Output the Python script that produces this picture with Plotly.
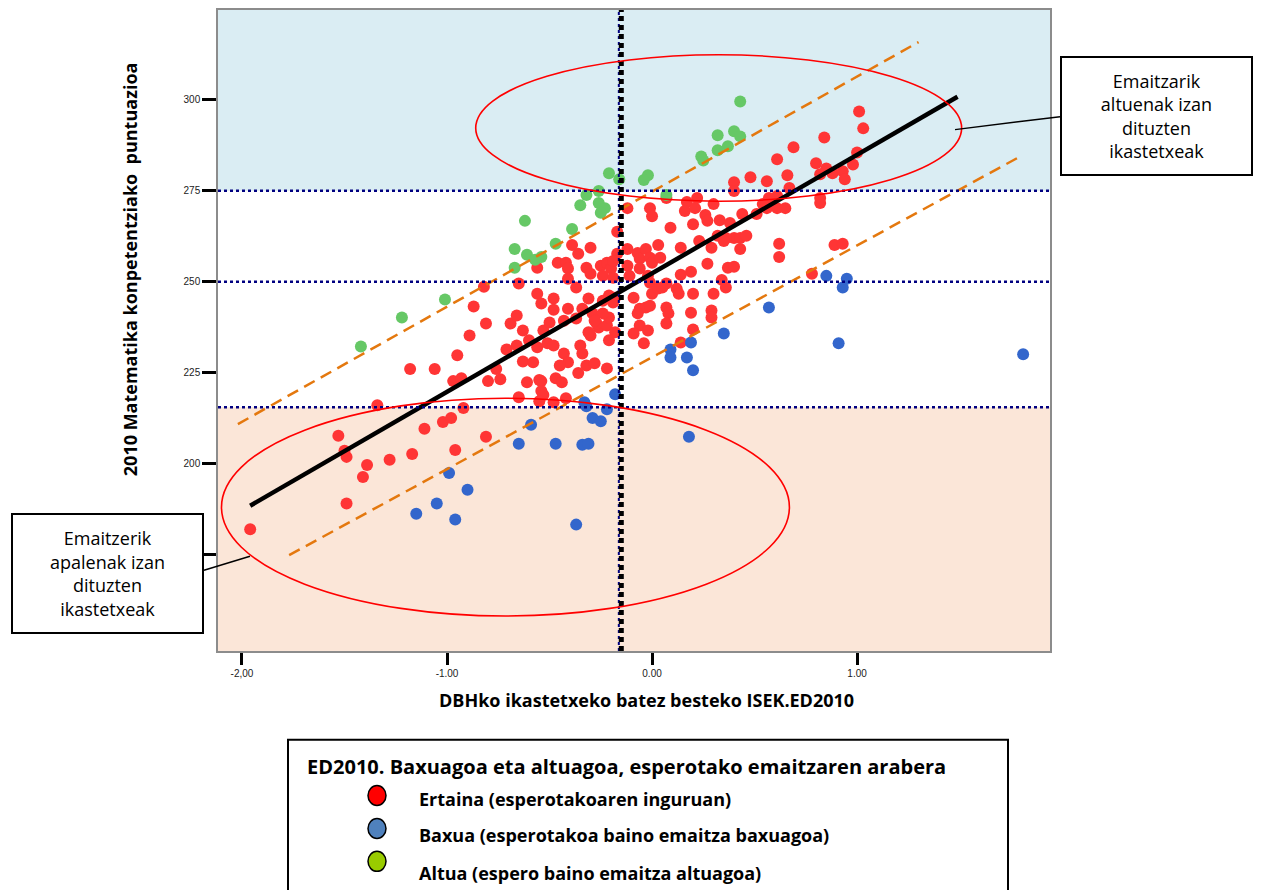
import plotly.graph_objects as go

# ---------------- data ----------------
red_x = [-1.96, -1.49, -1.41, -1.39, -1.49, -1.50, -1.53, -1.28, -1.17, -0.96, -1.11, -1.02, -0.98, -0.92, -0.81, -1.34,
         -1.18, -1.06, -0.95, -0.97, -0.93, -0.80, -0.74, -0.76, -0.89, -0.81, -0.69, -0.71, -0.66, -0.63, -0.61, -0.54,
         -0.54, -0.53, -0.47, -0.44, -0.36, -0.32, -0.28, -0.22, -0.60, -0.56, -0.51, -0.48, -0.43, -0.41, -0.45, -0.35,
         -0.30, -0.26, -0.22, -0.18, -0.21, -0.63, -0.53, -0.50, -0.58, -0.87, -0.82, -0.65, -0.66, -0.56, -0.54, -0.48,
         -0.48, -0.43, -0.55, -0.37, -0.34, -0.31, -0.29, -0.27, -0.24, -0.21, -0.18, -0.31, -0.34, -0.41, -0.24, -0.28,
         -0.65, -0.55, -0.48, -0.42,
         -0.12, -0.01, 0.00, -0.17, -0.39, -0.36, -0.30, -0.17, -0.12, -0.07, -0.06, -0.03, -0.01, 0.00, -0.46, -0.42,
         -0.41, -0.32, -0.30, -0.25, -0.22, -0.20, -0.24, -0.19, -0.12, -0.11, -0.06, -0.02, -0.01, -0.56, -0.41, -0.37,
         -0.19, -0.09, -0.06, -0.03, -0.01, -0.07, -0.06, -0.02, -0.09, -0.04, 0.00, 0.03, -0.21, -0.19,
         1.01, 1.03, 0.84, 0.69, 0.61, 0.80, 0.85, 0.82, 0.88, 0.93, 0.94, 0.98, 1.00, 0.66, 0.56, 0.48, 0.40, 0.40,
         0.67, 0.61, 0.57, 0.54, 0.56, 0.61, 0.65, 0.82, 0.82, 0.22, 0.17, 0.16, 0.21, 0.30, 0.07, 0.26, 0.27, 0.33,
         0.20, 0.38, 0.44, 0.51, 0.09, 0.40, 0.43, 0.46, 0.36, 0.32, 0.29, 0.35, 0.23, 0.14, 0.43, 0.03, 0.04, 0.62,
         0.62, 0.89, 0.93, 0.27, 0.37, 0.40, 0.19, 0.14, 0.34, 0.36, 0.12, 0.13, 0.20, 0.30, 0.07, 0.05, 0.07, 0.08,
         0.07, 0.19, 0.29, 0.29, 0.20, 0.78, 0.14]
red_y = [182.0, 189.1, 196.4, 199.7, 201.9, 203.6, 207.7, 201.1, 202.7, 203.8, 209.6, 211.5, 212.6, 215.3, 207.4, 216.1,
         226.0, 226.0, 229.8, 222.7, 223.5, 222.7, 223.2, 226.0, 235.2, 238.5, 238.5, 231.4, 232.5, 228.1, 222.4, 222.7,
         220.0, 218.9, 223.5, 222.4, 224.9, 227.0, 227.6, 226.2, 233.9, 232.0, 233.1, 232.5, 230.3, 227.9, 227.0, 232.5,
         235.2, 237.4, 238.0, 236.1, 233.9, 236.6, 236.6, 238.8, 227.9, 243.2, 248.6, 249.5, 240.7, 246.7, 244.0, 245.4,
         242.3, 239.3, 223.0, 239.9, 242.6, 245.4, 241.3, 238.5, 244.8, 240.2, 245.6, 236.1, 230.3, 242.6, 241.3, 239.3,
         218.3, 217.2, 216.9, 218.0,
         270.2, 270.2, 268.0, 263.7, 260.1, 257.7, 259.3, 257.7, 259.0, 257.9, 256.3, 259.0, 256.6, 255.2, 255.2, 255.2,
         253.6, 253.8, 252.2, 254.4, 255.2, 253.6, 251.6, 251.1, 254.4, 251.6, 253.6, 251.6, 249.7, 253.8, 250.8, 248.4,
         255.7, 245.6, 242.6, 242.9, 243.4, 241.3, 238.0, 236.6, 235.8, 233.1, 246.7, 248.1, 246.2, 244.3,
         296.7, 292.1, 289.6, 286.9, 283.6, 282.5, 281.1, 279.5, 279.8, 280.3, 278.1, 282.2, 285.5, 279.2, 277.6, 278.7,
         277.3, 274.9, 275.7, 273.5, 273.0, 271.3, 270.2, 270.2, 270.2, 273.0, 271.6, 273.0, 271.9, 269.4, 270.2, 271.3,
         273.0, 268.3, 266.7, 266.9, 265.8, 266.1, 268.6, 268.6, 264.8, 262.0, 262.0, 262.6, 262.0, 262.6, 259.3, 261.2,
         261.2, 259.3, 259.0, 260.1, 256.6, 260.4, 256.8, 260.1, 260.4, 254.9, 253.8, 254.1, 252.7, 251.9, 250.5, 248.4,
         248.1, 246.7, 246.7, 246.7, 249.5, 248.4, 242.9, 241.3, 238.5, 241.5, 242.1, 240.2, 236.9, 252.2, 233.3]

blue_x = [0.85, 0.95, 0.93, 0.57, 0.35, 0.19, 0.09, 0.09, 0.17, 0.20, 0.91, 1.81, -0.18, -0.33, -0.32, -0.22, -0.29,
          -0.25, -0.59, -0.65, -0.47, -0.34, -0.31, 0.18, -0.99, -0.90, -1.05, -1.15, -0.96, -0.37]
blue_y = [251.6, 250.8, 248.4, 242.9, 235.8, 233.3, 231.4, 229.2, 229.2, 225.7, 233.1, 230.1, 219.1, 216.9, 215.8, 215.0,
          212.6, 211.7, 210.7, 205.5, 205.5, 205.2, 205.5, 207.4, 197.5, 192.9, 189.1, 186.3, 184.7, 183.3]

green_x = [0.43, 0.32, 0.40, 0.43, 0.37, 0.32, 0.24, 0.25, -0.02, -0.04, 0.07, -0.21, -0.16, -0.32, -0.26, -0.35, -0.26,
           -0.23, -0.25, -0.62, -0.39, -0.47, -0.67, -0.61, -0.57, -0.54, -0.67, -1.01, -1.22, -1.42]
green_y = [299.5, 290.2, 291.3, 289.9, 287.2, 286.1, 284.4, 283.3, 279.2, 277.9, 273.8, 279.8, 278.1, 273.8, 274.9, 271.0,
           271.6, 270.2, 268.9, 266.7, 264.5, 260.4, 259.0, 257.4, 256.0, 256.8, 253.8, 245.1, 240.2, 232.2]

# fit line and prediction band (endpoints)
fit_x = [-1.96, 1.49]
fit_y = [188.5, 300.8]
band_hi_x = [-2.02, 1.30]
band_hi_y = [210.9, 315.8]
band_lo_x = [-1.77, 1.78]
band_lo_y = [174.9, 283.9]

# reference lines
h_lines = [275, 250, 215.5]
v_line = -0.15
high_zone = [275, 324.6]
low_zone = [148.6, 215.5]

# highlighted groups (ellipses): [x0, x1, y0, y1]
ellipse_high = [-0.86, 1.51, 272.1, 312.3]
ellipse_low = [-2.10, 0.67, 158.2, 218.0]

x_range = [-2.117, 1.941]
y_range = [148.6, 324.6]
x_ticks = [-2, -1, 0, 1]
x_ticktext = ["-2,00", "-1.00", "0.00", "1.00"]
y_ticks = [175, 200, 225, 250, 275, 300]
y_ticktext = ["175", "200", "225", "250", "275", "300"]

legend_title = "ED2010. Baxuagoa eta altuagoa, esperotako emaitzaren arabera"
legend_items = ["Ertaina (esperotakoaren inguruan)",
                "Baxua (esperotakoa baino emaitza baxuagoa)",
                "Altua (espero baino emaitza altuagoa)"]
legend_colors = ["#FF0000", "#4F81BD", "#99CC00"]

# ---------------- figure ----------------
OFF = 8                      # page body margin
W, H = 1253, 882
L, R, T, B = 210, 211, 0, 239
pw, ph = W - L - R, H - T - B


def px(xs):
    """screen x pixel -> paper coordinate"""
    return (xs - OFF - L) / pw


def py(ys):
    """screen y pixel -> paper coordinate"""
    return (OFF + H - B - ys) / ph


fig = go.Figure()

mk = dict(size=12, line=dict(width=0))
fig.add_trace(go.Scatter(x=red_x, y=red_y, mode="markers", marker=dict(color="#FF3535", **mk), showlegend=False))
fig.add_trace(go.Scatter(x=blue_x, y=blue_y, mode="markers", marker=dict(color="#3366CC", **mk), showlegend=False))
fig.add_trace(go.Scatter(x=green_x, y=green_y, mode="markers", marker=dict(color="#66C866", **mk), showlegend=False))

orange = "#E4780E"
fig.add_trace(go.Scatter(x=band_hi_x, y=band_hi_y, mode="lines",
                         line=dict(color=orange, width=2.5, dash="12px,7px"), showlegend=False))
fig.add_trace(go.Scatter(x=band_lo_x, y=band_lo_y, mode="lines",
                         line=dict(color=orange, width=2.5, dash="12px,7px"), showlegend=False))
fig.add_trace(go.Scatter(x=fit_x, y=fit_y, mode="lines", line=dict(color="black", width=4.5), showlegend=False))

shapes = []
shapes.append(dict(type="rect", xref="paper", yref="y", x0=0, x1=1, y0=high_zone[0], y1=high_zone[1],
                   fillcolor="#DAEDF3", line=dict(width=0), layer="below"))
shapes.append(dict(type="rect", xref="paper", yref="y", x0=0, x1=1, y0=low_zone[0], y1=low_zone[1],
                   fillcolor="#FBE6D8", line=dict(width=0), layer="below"))
for hv in h_lines:
    shapes.append(dict(type="line", xref="paper", yref="y", x0=0, x1=1, y0=hv, y1=hv,
                       line=dict(color="#000080", width=2.5, dash="dot"), layer="above"))
shapes.append(dict(type="line", xref="x", yref="paper", x0=v_line - 0.012, x1=v_line - 0.012, y0=0, y1=1,
                   line=dict(color="#000080", width=2, dash="dot"), layer="above"))
shapes.append(dict(type="line", xref="x", yref="paper", x0=v_line, x1=v_line, y0=0, y1=1,
                   line=dict(color="black", width=5, dash="5px,4px"), layer="above"))
for e in (ellipse_high, ellipse_low):
    shapes.append(dict(type="circle", xref="x", yref="y", x0=e[0], x1=e[1], y0=e[2], y1=e[3],
                       line=dict(color="#FF0000", width=1.6), layer="above"))
shapes.append(dict(type="line", xref="paper", yref="paper", x0=px(955), y0=py(128), x1=px(1060), y1=py(115),
                   line=dict(color="black", width=1.5)))
shapes.append(dict(type="line", xref="paper", yref="paper", x0=px(204), y0=py(570), x1=px(250), y1=py(556),
                   line=dict(color="black", width=1.5)))
shapes.append(dict(type="rect", xref="paper", yref="paper", x0=px(288), x1=px(1008), y0=py(900), y1=py(740),
                   line=dict(color="black", width=2), fillcolor="white"))
leg_marker_y = [796, 829, 862]
for c, ym in zip(legend_colors, leg_marker_y):
    shapes.append(dict(type="circle", xref="paper", yref="paper", x0=px(368), x1=px(386), y0=py(ym + 10),
                       y1=py(ym - 10), fillcolor=c, line=dict(color="black", width=1.5)))
fig.update_layout(shapes=shapes)

ann = []
box_font = dict(family="Open Sans", size=18, color="black")
ann.append(dict(xref="paper", yref="paper", x=px(1156.5), y=py(114), xanchor="center", yanchor="middle",
                text="Emaitzarik<br>altuenak izan<br>dituzten<br>ikastetxeak", showarrow=False, font=box_font,
                bgcolor="white", bordercolor="black", borderwidth=2, width=187, height=114, align="center"))
ann.append(dict(xref="paper", yref="paper", x=px(107.5), y=py(573.5), xanchor="center", yanchor="middle",
                text="Emaitzerik<br>apalenak izan<br>dituzten<br>ikastetxeak", showarrow=False, font=box_font,
                bgcolor="white", bordercolor="black", borderwidth=2, width=187, height=115, align="center"))
ann.append(dict(xref="paper", yref="paper", x=px(130), y=py(268), xanchor="center", yanchor="middle",
                text="<b>2010 Matematika konpetentziako  puntuazioa</b>", textangle=-90, showarrow=False,
                font=dict(family="Open Sans", size=18, color="black")))
ann.append(dict(xref="paper", yref="paper", x=px(646), y=py(700), xanchor="center", yanchor="middle",
                text="<b>DBHko ikastetxeko batez besteko ISEK.ED2010</b>", showarrow=False,
                font=dict(family="Open Sans", size=18, color="black")))
ann.append(dict(xref="paper", yref="paper", x=px(305), y=py(767), xanchor="left", yanchor="middle",
                text="<b>" + legend_title + "</b>", showarrow=False,
                font=dict(family="Open Sans", size=20, color="black")))
for t, yt in zip(legend_items, [799, 836, 874]):
    ann.append(dict(xref="paper", yref="paper", x=px(417), y=py(yt), xanchor="left", yanchor="middle",
                    text="<b>" + t + "</b>", showarrow=False,
                    font=dict(family="Open Sans", size=18, color="black")))
fig.update_layout(annotations=ann)

fig.update_layout(
    width=W, height=H, autosize=False,
    margin=dict(l=L, r=R, t=T, b=B, pad=0),
    paper_bgcolor="white", plot_bgcolor="white",
    showlegend=False,
    xaxis=dict(range=x_range, tickvals=x_ticks, ticktext=x_ticktext, showgrid=False, zeroline=False,
               ticks="outside", ticklen=12, tickwidth=3, tickcolor="black",
               showline=True, linecolor="#8C8C8C", linewidth=1.5, mirror=True,
               tickfont=dict(family="Liberation Sans", size=10, color="#222")),
    yaxis=dict(range=y_range, tickvals=y_ticks, ticktext=y_ticktext, showgrid=False, zeroline=False,
               ticks="outside", ticklen=14, tickwidth=3, tickcolor="black",
               showline=True, linecolor="#8C8C8C", linewidth=1.5, mirror=True,
               tickfont=dict(family="Liberation Sans", size=10, color="#222")),
)

fig.write_html("out.html")
